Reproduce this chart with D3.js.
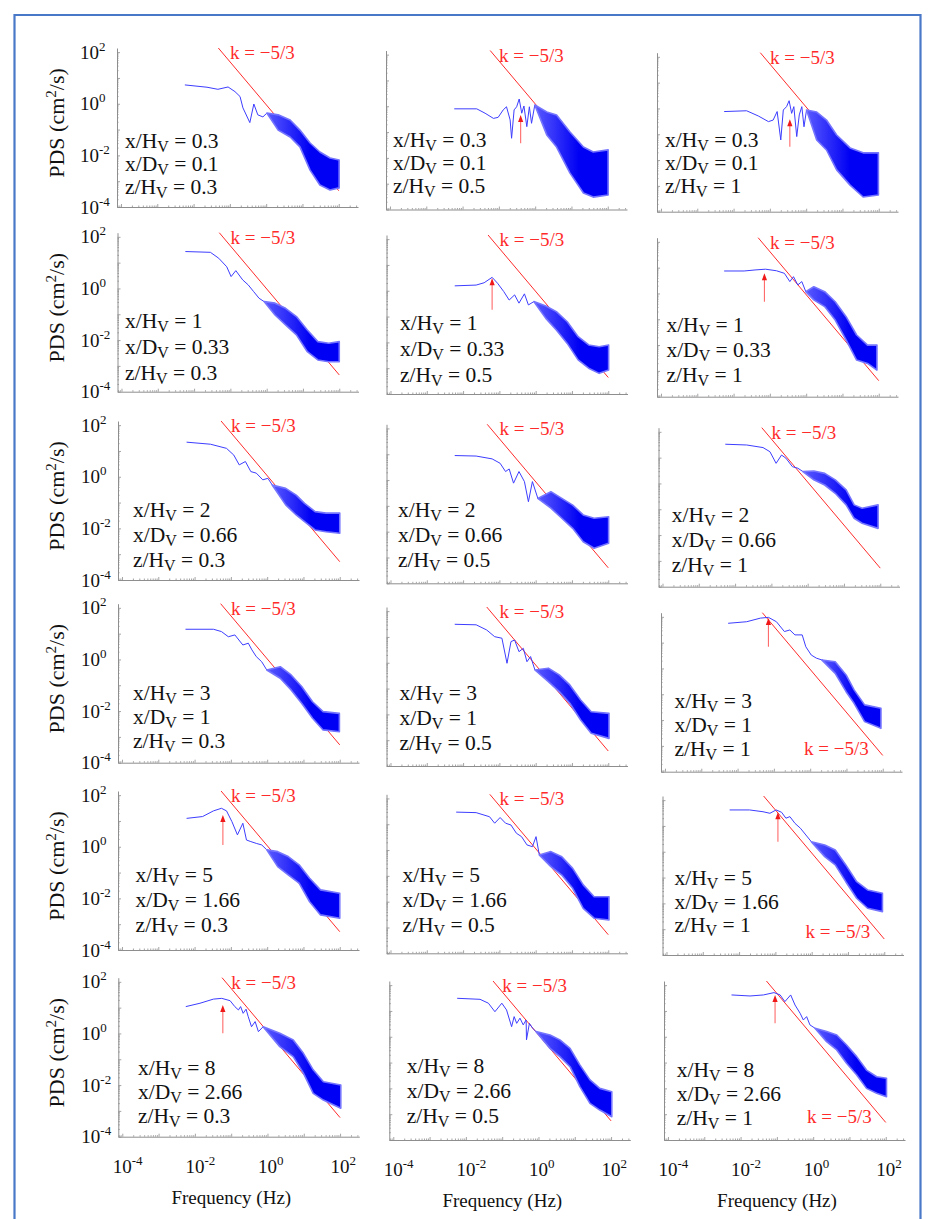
<!DOCTYPE html>
<html>
<head>
<meta charset="utf-8">
<script src="https://cdn.jsdelivr.net/npm/d3@7"></script>
<style>
  html, body { margin: 0; padding: 0; background: #fff; }
  svg { display: block; }
  svg text { font-family: "Liberation Serif", "Times New Roman", serif; white-space: pre; }
</style>
</head>
<body>
<svg id="fig" width="932" height="1219" font-family="Liberation Serif, Times New Roman, serif"></svg>
<script>
// ---------------- data ----------------
// Station parameters (rows: downstream distance, columns: height)
const xOverH = ["0.3", "1", "2", "3", "5", "8"];
const xOverD = ["0.1", "0.33", "0.66", "1", "1.66", "2.66"];
const zOverH = ["0.3", "0.5", "1"];

// Decade tick exponents
const xTickExp = [-4, -2, 0, 2];
const yTickExp = [2, 0, -2, -4];

// Kolmogorov slope of the reference line
const slopeK = -5 / 3;

// Low-frequency part of each spectrum, [log10 f (Hz), log10 PDS (cm^2/s)], row-major panels
const lowFreqLog = [
  [[-2.24,0.73],[-1.63,0.64],[-1.33,0.56],[-1.05,0.65],[-0.86,0.47],[-0.72,0.28],[-0.64,-0.16],[-0.45,-0.73],[-0.34,-0.01],[-0.23,-0.43],[-0.09,-0.51],[0.02,-0.36]],
  [[-2.23,-0.10],[-1.61,-0.10],[-1.38,-0.27],[-1.15,-0.47],[-1.02,-0.43],[-0.88,-0.14],[-0.79,-0.02],[-0.69,-0.53],[-0.65,-1.24],[-0.58,-0.14],[-0.51,-0.02],[-0.44,0.28],[-0.37,-0.27],[-0.31,0.01],[-0.23,-0.79],[-0.16,-0.02],[-0.10,-0.66],[-0.01,0.05]],
  [[-2.26,-0.12],[-1.64,-0.09],[-1.32,-0.29],[-1.04,-0.51],[-0.91,-0.45],[-0.80,-0.12],[-0.70,-1.22],[-0.63,-0.06],[-0.54,0.07],[-0.47,0.30],[-0.40,-0.19],[-0.34,0.07],[-0.26,-1.09],[-0.19,-0.25],[-0.12,0.07],[-0.06,-0.71],[0.01,-0.06]],
  [[-2.24,1.43],[-1.55,1.40],[-1.32,1.17],[-1.10,0.84],[-0.98,0.46],[-0.85,0.69],[-0.66,0.33],[-0.51,0.14],[-0.36,-0.12],[-0.21,-0.38],[-0.07,-0.51]],
  [[-2.23,0.19],[-1.64,0.22],[-1.42,0.31],[-1.20,0.52],[-1.05,0.29],[-0.88,-0.03],[-0.73,-0.36],[-0.58,-0.16],[-0.46,-0.48],[-0.31,-0.12],[-0.20,-0.55],[-0.05,-0.42]],
  [[-2.26,0.87],[-1.71,0.87],[-1.41,0.91],[-1.12,0.94],[-0.82,0.88],[-0.60,0.78],[-0.45,0.46],[-0.35,0.65],[-0.23,0.33],[-0.12,0.46],[-0.01,0.07]],
  [[-2.22,1.34],[-1.56,1.26],[-1.12,1.10],[-0.92,0.84],[-0.77,0.46],[-0.60,0.59],[-0.45,0.20],[-0.30,0.14],[-0.12,-0.12],[0.02,-0.06],[0.14,-0.32]],
  [[-2.23,0.95],[-1.64,0.93],[-1.20,0.82],[-0.98,0.65],[-0.83,0.33],[-0.73,0.43],[-0.61,-0.12],[-0.46,0.33],[-0.31,-0.06],[-0.20,-0.84],[-0.09,-0.06],[0.06,-0.71]],
  [[-2.27,1.52],[-1.68,1.49],[-1.23,1.39],[-1.04,1.23],[-0.87,0.78],[-0.72,1.10],[-0.60,0.98],[-0.42,0.65],[-0.27,0.59],[-0.13,0.46]],
  [[-2.25,1.17],[-1.48,1.17],[-1.26,1.08],[-1.07,0.88],[-0.89,0.95],[-0.67,0.56],[-0.52,0.63],[-0.42,0.37],[-0.30,0.11],[-0.15,-0.09],[-0.01,-0.41]],
  [[-2.23,1.49],[-1.64,1.47],[-1.35,1.27],[-1.13,1.01],[-0.93,0.95],[-0.79,-0.02],[-0.68,0.82],[-0.58,0.88],[-0.46,0.43],[-0.34,0.56],[-0.24,0.04],[-0.14,0.24],[-0.02,-0.28]],
  [[-2.26,1.75],[-1.75,1.81],[-1.37,1.95],[-1.15,1.98],[-0.93,1.81],[-0.71,1.43],[-0.56,1.49],[-0.42,1.30],[-0.22,1.30],[-0.12,0.84],[0.03,0.52],[0.17,0.40],[0.32,0.33]],
  [[-2.22,1.10],[-1.78,1.17],[-1.48,1.39],[-1.26,1.49],[-1.12,1.39],[-0.97,0.97],[-0.82,0.46],[-0.67,0.91],[-0.57,0.26],[-0.45,0.20],[-0.30,0.13],[-0.15,0.07],[-0.01,-0.12]],
  [[-2.19,1.47],[-1.64,1.45],[-1.27,1.29],[-1.13,1.04],[-0.98,1.26],[-0.83,1.04],[-0.68,0.97],[-0.53,0.65],[-0.39,0.52],[-0.24,0.20],[-0.09,0.13],[0.01,0.52],[0.10,-0.19]],
  [[-2.26,1.62],[-1.71,1.62],[-1.34,1.55],[-1.15,1.49],[-0.98,1.62],[-0.83,1.53],[-0.71,1.30],[-0.60,1.36],[-0.46,1.10],[-0.31,0.91],[-0.16,0.65],[-0.01,0.39]],
  [[-2.25,1.04],[-1.86,1.17],[-1.49,1.33],[-1.26,1.36],[-1.03,1.27],[-0.90,1.04],[-0.80,0.91],[-0.74,1.04],[-0.67,0.78],[-0.59,0.94],[-0.53,0.65],[-0.44,0.26],[-0.34,0.46],[-0.25,0.07],[-0.12,0.26]],
  [[-2.24,1.49],[-1.61,1.45],[-1.38,1.30],[-1.20,0.97],[-1.01,1.30],[-0.88,1.04],[-0.74,0.39],[-0.67,0.78],[-0.60,0.52],[-0.51,0.72],[-0.42,0.46],[-0.34,0.65],[-0.33,-0.12],[-0.25,0.52],[-0.16,0.33],[-0.07,0.20]],
  [[-2.25,1.62],[-1.74,1.58],[-1.37,1.62],[-1.08,1.71],[-0.91,1.62],[-0.78,1.36],[-0.62,1.62],[-0.50,1.23],[-0.36,0.91],[-0.27,0.65],[-0.18,0.78],[-0.09,0.46],[0.05,0.33]]
];

// Turbulent high-frequency band of each spectrum, [log10 f, log10 upper PDS, log10 lower PDS]
const turbBandLog = [
  [[0.33,-0.43,-1.02],[0.66,-0.63,-1.29],[0.93,-1.02,-1.67],[1.21,-1.52,-2.57],[1.48,-1.87,-3.15],[1.76,-2.10,-3.34],[2.01,-2.18,-3.26]],
  [[0.32,-0.22,-1.11],[0.59,-0.34,-1.58],[0.96,-1.00,-2.59],[1.33,-1.58,-3.36],[1.60,-1.77,-3.52],[2.01,-1.69,-3.44]],
  [[0.29,-0.14,-1.22],[0.56,-0.45,-1.61],[0.84,-1.03,-2.38],[1.21,-1.53,-2.97],[1.57,-1.72,-3.43],[1.99,-1.72,-3.35]],
  [[0.23,-0.57,-1.03],[0.52,-0.77,-1.41],[0.82,-1.09,-1.80],[1.12,-1.61,-2.45],[1.41,-2.06,-2.77],[1.71,-2.12,-2.84],[2.00,-2.06,-2.84]],
  [[0.28,-0.59,-1.07],[0.57,-0.81,-1.52],[0.87,-1.20,-2.04],[1.17,-1.78,-2.68],[1.46,-2.10,-3.00],[1.75,-2.17,-3.20],[2.01,-2.10,-3.07]],
  [[0.21,0.26,-0.25],[0.51,0.07,-0.51],[0.80,-0.32,-1.03],[1.10,-0.90,-1.80],[1.39,-1.61,-2.58],[1.69,-2.00,-2.71],[1.95,-2.00,-2.97]],
  [[0.51,-0.45,-1.09],[0.80,-0.71,-1.48],[1.03,-1.03,-1.74],[1.32,-1.35,-2.06],[1.62,-1.41,-2.13],[2.00,-1.41,-2.19]],
  [[0.42,-0.45,-1.09],[0.72,-0.71,-1.48],[1.02,-0.97,-1.87],[1.31,-1.35,-2.39],[1.61,-1.48,-2.64],[2.01,-1.42,-2.45]],
  [[0.17,0.48,0.14],[0.47,0.39,-0.06],[0.76,0.14,-0.38],[1.06,-0.25,-0.83],[1.28,-0.83,-1.35],[1.50,-0.96,-1.54],[1.94,-0.83,-1.74]],
  [[0.36,-0.28,-0.73],[0.66,-0.60,-1.18],[0.95,-1.05,-1.70],[1.25,-1.64,-2.28],[1.54,-2.02,-2.73],[1.99,-2.09,-2.80]],
  [[0.35,-0.21,-0.73],[0.65,-0.47,-1.12],[0.94,-0.86,-1.57],[1.24,-1.44,-2.22],[1.53,-1.90,-2.73],[2.02,-1.96,-2.93]],
  [[0.69,0.26,-0.19],[0.99,-0.25,-0.90],[1.21,-0.83,-1.35],[1.50,-1.41,-2.06],[1.95,-1.54,-2.32]],
  [[0.29,-0.19,-0.77],[0.58,-0.38,-1.09],[0.88,-0.70,-1.41],[1.17,-1.22,-2.13],[1.47,-1.67,-2.64],[2.00,-1.80,-2.77]],
  [[0.42,-0.06,-0.64],[0.72,-0.26,-0.97],[1.02,-0.71,-1.48],[1.31,-1.35,-2.26],[1.61,-1.81,-2.64],[2.02,-1.81,-2.71]],
  [[0.36,0.26,-0.19],[0.65,0.07,-0.51],[0.94,-0.51,-1.16],[1.24,-1.16,-1.80],[1.54,-1.48,-2.19],[1.95,-1.61,-2.32]],
  [[0.34,0.01,-0.51],[0.71,-0.25,-0.90],[0.99,-0.77,-1.54],[1.26,-1.41,-2.32],[1.54,-1.87,-2.58],[2.02,-2.00,-2.90]],
  [[0.32,0.07,-0.45],[0.59,-0.12,-0.77],[0.87,-0.45,-1.16],[1.14,-1.09,-1.93],[1.42,-1.67,-2.58],[1.69,-2.00,-2.84],[2.02,-2.13,-3.10]],
  [[0.37,0.20,-0.19],[0.65,0.07,-0.51],[0.92,-0.32,-1.03],[1.20,-0.77,-1.48],[1.47,-1.29,-2.00],[1.75,-1.55,-2.19],[2.02,-1.61,-2.32]]
];

// log10 PDS of the -5/3 reference line at 100 Hz
const refLineAt100Hz = [-3.37,-3.24,-3.28, -3.35,-3.36,-3.38, -3.29,-3.40,-3.28, -3.31,-3.42,-3.37, -3.29,-3.28,-3.38, -3.26,-3.26,-3.32];

// Peak markers: [log10 f, log10 PDS at tip, log10 PDS at tail]; null where none
const peakArrowLog = [
  null, [-0.40,-0.34,-1.43], [-0.45,-0.42,-1.48],
  null, [-1.20,0.48,-0.74], [-1.15,0.78,-0.32],
  null, null, null,
  null, null, [-1.15,1.95,0.84],
  [-1.22,1.23,0.07], null, [-0.93,1.53,0.39],
  [-1.23,1.10,0.01], null, [-1.05,1.62,0.52]
];

// ---------------- layout ----------------
// Axis corner (left x, bottom y) of each panel
const panelCorner = [
  [117,207],[386,209.5],[657,211.7],
  [117.5,391.7],[386.5,394],[657,396.7],
  [118,580],[386.5,583.3],[658.5,586.7],
  [118,762.7],[386.5,766],[661,771.7],
  [118,950],[386.5,953.3],[662.5,955],
  [118.3,1136.7],[389.3,1140],[664,1140]
];
// Parameter text block: [dx from axis, first baseline dy from axis bottom, line step]
const notePlace = [
  [8,-59,23],[7,-62.5,23],[8,-64.7,23],
  [7.5,-63.4,26],[13.5,-64,26],[9.4,-65,25],
  [15,-63.3,25],[11.5,-66.6,25],[13.3,-65,25],
  [15,-62.7,24],[13,-66,25],[13.5,-63.4,24],
  [17.6,-68.3,25],[16,-71.6,25],[12,-70,23.5],
  [19.7,-61.7,24],[17.4,-66.7,25],[12.7,-63.3,24]
];
// Slope label at the top ("top") or lower right ("low")
const slopeLabelSpot = ["top","top","top","top","top","top","top","top","top","top","top","low","top","top","low","top","top","low"];

const W = 241, H = 159;
const xDom = [Math.pow(10, -4.11), Math.pow(10, 2.53)];
const yDom = [1e-4, Math.pow(10, 2.16)];
const pw = v => Math.pow(10, v);
const SERIF = "Liberation Serif, Times New Roman, serif";

const C_AXIS = "#8e8e8e";
const C_LINE = "#3d3dff";
const C_EDGE = "#7474ff";
const C_RED = "#ff2b2b";

const svg = d3.select("#fig");
const defs = svg.append("defs");

// outer frame (runs off the bottom of the page)
svg.append("path")
  .attr("d", "M14.5,1219 V15 H920.5 V1219")
  .attr("fill", "none").attr("stroke", "#4a78c8").attr("stroke-width", 2.2);

function supLabel(sel, x, y, base, exp, size, supSize, rise) {
  const t = sel.append("text").attr("x", x).attr("y", y).attr("font-size", size)
    .attr("font-family", SERIF).attr("fill", "#111");
  t.append("tspan").text(base);
  t.append("tspan").attr("dy", -rise).attr("font-size", supSize).text(exp);
  return t;
}

for (let r = 0; r < 6; r++) {
  for (let c = 0; c < 3; c++) {
    const i = r * 3 + c;
    const [L, B] = panelCorner[i];
    const x = d3.scaleLog().domain(xDom).range([L, L + W]);
    const y = d3.scaleLog().domain(yDom).range([B, B - H]);
    const g = svg.append("g");

    // axes: major decade ticks and minor ticks, pointing into the plot
    const majX = d3.range(-4, 3).map(pw);
    const minX = [];
    d3.range(-5, 3).forEach(e => d3.range(2, 10).forEach(m => { const v = m * pw(e); if (v > xDom[0] && v < xDom[1]) minX.push(v); }));
    const majY = d3.range(-4, 3).map(pw).filter(v => v <= yDom[1]);
    const minY = [];
    d3.range(-4, 3).forEach(e => d3.range(2, 10).forEach(m => { const v = m * pw(e); if (v > yDom[0] && v < yDom[1]) minY.push(v); }));

    g.append("g").attr("transform", `translate(0,${B})`)
      .call(d3.axisTop(x).tickValues(majX).tickSize(3).tickSizeOuter(0).tickFormat(""));
    g.append("g").attr("transform", `translate(0,${B})`)
      .call(d3.axisTop(x).tickValues(minX).tickSize(1.5).tickSizeOuter(0).tickFormat(""))
      .select(".domain").remove();
    g.append("g").attr("transform", `translate(${L},0)`)
      .call(d3.axisRight(y).tickValues(majY).tickSize(3).tickSizeOuter(0).tickFormat(""));
    g.append("g").attr("transform", `translate(${L},0)`)
      .call(d3.axisRight(y).tickValues(minY).tickSize(1.5).tickSizeOuter(0).tickFormat(""))
      .select(".domain").remove();
    g.selectAll(".domain").attr("stroke", C_AXIS).attr("stroke-width", 1);
    g.selectAll(".tick line").attr("stroke", C_AXIS).attr("stroke-width", 0.8);

    // tick labels on the outer panels only
    if (c === 0) {
      yTickExp.forEach(e => supLabel(g, L - 37, y(pw(e)) + 6.5, "10", String(e), 19, 13, 8));
      const yl = g.append("text")
        .attr("transform", `translate(64,${B - 84}) rotate(-90)`)
        .attr("text-anchor", "middle").attr("font-size", 22)
        .attr("font-family", SERIF).attr("fill", "#111");
      yl.append("tspan").text("PDS (cm");
      yl.append("tspan").attr("dy", -8).attr("font-size", 15).text("2");
      yl.append("tspan").attr("dy", 8).text("/s)");
    }
    if (r === 5) {
      xTickExp.forEach(e => supLabel(g, x(pw(e)) - 9.5, B + 36, "10", String(e), 19, 13, 8));
      g.append("text").attr("x", L + 113).attr("y", B + 67)
        .attr("text-anchor", "middle").attr("font-size", 19)
        .attr("font-family", SERIF).attr("fill", "#111")
        .text("Frequency (Hz)");
    }

    // -5/3 reference line, anchored at 100 Hz and running up to the top of the axis
    const p100 = refLineAt100Hz[i];
    const fStart = 2 - (Math.log10(yDom[1]) - p100) / (-slopeK);
    g.append("path")
      .datum([[pw(fStart), yDom[1]], [100, pw(p100)]])
      .attr("d", d3.line().x(d => x(d[0])).y(d => y(d[1])))
      .attr("fill", "none").attr("stroke", C_RED).attr("stroke-width", 1);

    // spectrum: coherent low-frequency part, then the turbulent band which
    // opens out from the last low-frequency point
    const low = lowFreqLog[i].map(d => [pw(d[0]), pw(d[1])]);
    const last = low[low.length - 1];
    const band = [[last[0], last[1], last[1]]]
      .concat(turbBandLog[i].map(d => [pw(d[0]), pw(d[1]), pw(d[2])]));

    const gid = `bandFill${i}`;
    const grad = defs.append("linearGradient").attr("id", gid)
      .attr("gradientUnits", "userSpaceOnUse")
      .attr("x1", x(last[0])).attr("x2", x(pw(1.2))).attr("y1", 0).attr("y2", 0);
    grad.append("stop").attr("offset", 0).attr("stop-color", "#5a5aff");
    grad.append("stop").attr("offset", 1).attr("stop-color", "#0000f4");

    g.append("path").datum(low)
      .attr("d", d3.line().x(d => x(d[0])).y(d => y(d[1])))
      .attr("fill", "none").attr("stroke", C_LINE).attr("stroke-width", 1);
    g.append("path").datum(band)
      .attr("d", d3.area().x(d => x(d[0])).y0(d => y(d[2])).y1(d => y(d[1])))
      .attr("fill", `url(#${gid})`).attr("stroke", C_EDGE).attr("stroke-width", 1.6)
      .attr("stroke-linejoin", "round");

    // peak marker arrow
    const pa = peakArrowLog[i];
    if (pa) {
      const ax0 = x(pw(pa[0])), yTip = y(pw(pa[1])), yTail = y(pw(pa[2]));
      g.append("line").attr("x1", ax0).attr("x2", ax0).attr("y1", yTail).attr("y2", yTip + 5)
        .attr("stroke", "#ff6a6a").attr("stroke-width", 1.1);
      g.append("path")
        .attr("d", `M${ax0},${yTip} L${ax0 - 2.6},${yTip + 7} L${ax0 + 2.6},${yTip + 7} Z`)
        .attr("fill", "#f01818");
    }

    // slope label
    const kl = slopeLabelSpot[i] === "top"
      ? [L + 113, B - 148]
      : [L + 143, B - 17];
    g.append("text").attr("x", kl[0]).attr("y", kl[1])
      .attr("font-size", 19).attr("font-family", SERIF).attr("fill", C_RED)
      .text("k = \u22125/3");

    // station parameters
    const [dx, dy, step] = notePlace[i];
    const rows = [["x/H", xOverH[r]], ["x/D", xOverD[r]], ["z/H", zOverH[c]]];
    rows.forEach(([lhs, val], k) => {
      const t = g.append("text").attr("x", L + dx).attr("y", B + dy + k * step)
        .attr("font-size", 21.5).attr("font-family", SERIF).attr("fill", "#111");
      t.append("tspan").text(lhs);
      t.append("tspan").attr("dy", 4).attr("font-size", 16).text("V");
      t.append("tspan").attr("dy", -4).text(" = " + val);
    });
  }
}
</script>
</body>
</html>
